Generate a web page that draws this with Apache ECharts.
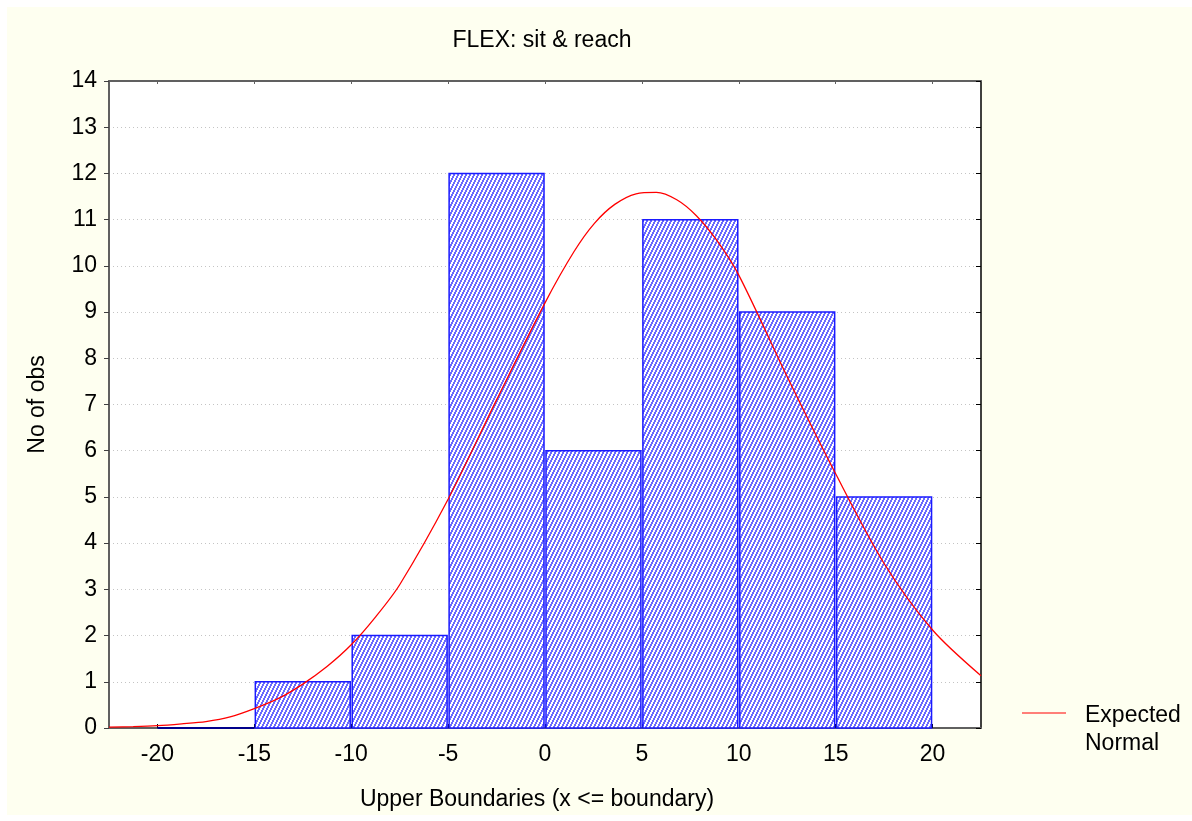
<!DOCTYPE html>
<html>
<head>
<meta charset="utf-8">
<script src="https://cdn.jsdelivr.net/npm/echarts@6/dist/echarts.min.js"></script>
<style>
  html, body { margin: 0; padding: 0; background: #ffffff; }
  #chart { width: 1192px; height: 821px; }
</style>
</head>
<body>
<div id="chart"></div>
<script>
// Histogram bins (lower and upper boundaries) and observed counts
const binLower = [-20, -15, -10, -5, 0, 5, 10, 15];
const binUpper = [-15, -10, -5, 0, 5, 10, 15, 20];
const counts   = [0, 1, 2, 12, 6, 11, 9, 5];

// Expected normal curve, sampled points (x, expected count)
const curveX = [-22.5, -21.25, -20, -18.75, -17.5, -16.25, -15, -13.75, -12.5, -11.25, -10, -8.75, -7.5, -5, -2.5, 0, 1.5, 2.55, 3.6, 4.7, 5.75, 6.8, 7.8, 8.85, 10, 12.5, 15, 17.5, 20, 22.5];
const curveY = [0.02, 0.03, 0.05, 0.09, 0.14, 0.24, 0.42, 0.64, 0.95, 1.33, 1.8, 2.4, 3.1, 4.95, 7.1, 9.2, 10.31, 10.92, 11.33, 11.56, 11.59, 11.43, 11.09, 10.56, 9.8, 7.6, 5.5, 3.56, 2.12, 1.13];

// Axis tick positions
const xTicks = [-20, -15, -10, -5, 0, 5, 10, 15, 20];

const FONT = "'Liberation Sans', Arial, sans-serif";

// Diagonal hatch tile used to fill the bars
function hatchTile() {
  const c = document.createElement('canvas');
  c.width = 4; c.height = 8;
  const g = c.getContext('2d');
  g.fillStyle = '#ffffff';
  g.fillRect(0, 0, 4, 8);
  g.fillStyle = '#6a6aff';
  for (let y = 0; y < 8; y++) {
    for (let x = 0; x < 4; x++) {
      if (((2 * x + y) % 8) < 4) g.fillRect(x, y, 1, 1);
    }
  }
  return c;
}
const hatch = { type: 'pattern', image: hatchTile(), repeat: 'repeat' };

const barData = binLower.map((lo, i) => [lo, binUpper[i], counts[i]]);
const curveData = curveX.map((x, i) => [x, curveY[i]]);

const chart = echarts.init(document.getElementById('chart'), null, { renderer: 'canvas' });

chart.setOption({
  backgroundColor: '#ffffff',
  animation: false,
  graphic: [{
    type: 'rect', z: -10, silent: true,
    shape: { x: 7, y: 7, width: 1185, height: 808 },
    style: { fill: '#fefff0' }
  }],
  title: {
    text: 'FLEX: sit & reach',
    left: 537, top: 24, textAlign: 'center',
    textStyle: { fontFamily: FONT, fontSize: 23, fontWeight: 'normal', color: '#000' }
  },
  legend: {
    left: 1022, top: 668, padding: 0,
    itemWidth: 44, itemHeight: 12,
    data: [{ name: 'Expected Normal', icon: 'path://M0,6L44,6L44,7L0,7Z' }],
    formatter: n => '{s| }\n{t|' + n.split(' ').join('}\n{t|') + '}',
    textStyle: {
      fontFamily: FONT, fontSize: 23, color: '#000', padding: [0, 0, 0, 14],
      rich: {
        s: { fontSize: 10, height: 34, lineHeight: 34 },
        t: { fontFamily: FONT, fontSize: 23, lineHeight: 28, color: '#000' }
      }
    }
  },
  grid: {
    left: 109, right: 211, top: 81, bottom: 93,
    show: true, backgroundColor: '#ffffff', borderWidth: 0
  },
  xAxis: [{
    type: 'value', min: -22.5, max: 22.5, position: 'bottom',
    name: 'Upper Boundaries (x <= boundary)', nameLocation: 'middle', nameGap: 60,
    nameTextStyle: { fontFamily: FONT, fontSize: 23, color: '#000', padding: [0, 16, 0, 0] },
    axisLine: { show: true, onZero: false, lineStyle: { color: '#606060', width: 2 } },
    axisTick: { show: true, inside: true, length: 4, customValues: xTicks, lineStyle: { color: '#000' } },
    axisLabel: { customValues: xTicks, margin: 15, fontFamily: FONT, fontSize: 23, color: '#000' },
    splitLine: { show: false }
  }, {
    type: 'value', min: -22.5, max: 22.5, position: 'top',
    axisLine: { show: true, onZero: false, lineStyle: { color: '#606060', width: 2 } },
    axisTick: { show: true, inside: true, length: 3, customValues: xTicks, lineStyle: { color: '#606060' } },
    axisLabel: { show: false },
    splitLine: { show: false }
  }],
  yAxis: [{
    type: 'value', min: 0, max: 14, interval: 1, position: 'left',
    name: 'No of obs', nameLocation: 'middle', nameGap: 60, nameRotate: 90,
    nameTextStyle: { fontFamily: FONT, fontSize: 23, color: '#000' },
    axisLine: { show: true, onZero: false, lineStyle: { color: '#606060', width: 2 } },
    axisTick: { show: true, length: 5, lineStyle: { color: '#404040' } },
    axisLabel: { margin: 12, fontFamily: FONT, fontSize: 23, color: '#000' },
    splitLine: { show: true, lineStyle: { color: '#c4c4c4', type: [1, 3], width: 1 } }
  }, {
    type: 'value', min: 0, max: 14, interval: 1, position: 'right',
    axisLine: { show: true, onZero: false, lineStyle: { color: '#000', width: 1.5 } },
    axisTick: { show: true, inside: true, length: 5, lineStyle: { color: '#000' } },
    axisLabel: { show: false },
    splitLine: { show: false }
  }],
  series: [{
    type: 'custom',
    name: 'Counts',
    xAxisIndex: 0, yAxisIndex: 0,
    data: barData,
    encode: { x: [0, 1], y: 2 },
    renderItem: function (params, api) {
      const topLeft = api.coord([api.value(0), api.value(2)]);
      const botRight = api.coord([api.value(1), 0]);
      const h = botRight[1] - topLeft[1];
      if (h <= 0) {
        // empty bin: just its base line
        return {
          type: 'line',
          shape: { x1: topLeft[0], y1: botRight[1], x2: botRight[0], y2: botRight[1] },
          style: { stroke: '#00008b', lineWidth: 2 }
        };
      }
      return {
        type: 'rect',
        shape: { x: topLeft[0] + 1, y: topLeft[1], width: botRight[0] - topLeft[0] - 2, height: h },
        style: { fill: hatch, stroke: '#1a1aff', lineWidth: 1.5 }
      };
    },
    z: 3
  }, {
    type: 'line',
    name: 'Expected Normal',
    xAxisIndex: 0, yAxisIndex: 0,
    data: curveData,
    showSymbol: false,
    smooth: 0.3,
    lineStyle: { color: '#ff0000', width: 1.3 },
    itemStyle: { color: '#ff0000' },
    z: 5
  }]
});
</script>
</body>
</html>
